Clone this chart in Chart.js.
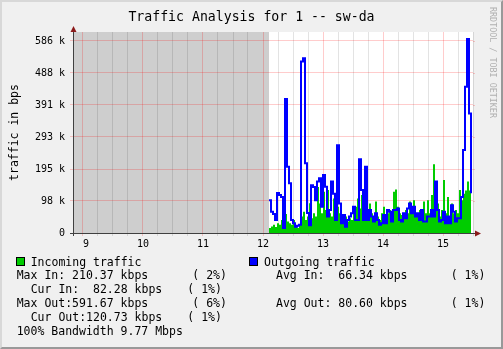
<!DOCTYPE html>
<html><head><meta charset="utf-8">
<script src="https://cdn.jsdelivr.net/npm/chart.js@4.4.0/dist/chart.umd.min.js"></script>
<style>
html,body{margin:0;padding:0;background:#f0f0f0;}
#wrap{position:relative;width:503px;height:349px;background:#f0f0f0;overflow:hidden;font-family:'DejaVu Sans Mono',monospace;color:#000;}
#frame{position:absolute;left:0;top:0;width:503px;height:349px;box-sizing:border-box;border-top:2px solid #d8d8d8;border-left:2px solid #d8d8d8;border-right:2px solid #999;border-bottom:2px solid #999;pointer-events:none;}
canvas{position:absolute;left:0;top:0;}
.t{position:absolute;white-space:pre;font-size:11.5px;line-height:14px;}
#title{position:absolute;left:0;width:503px;top:9px;text-align:center;font-size:13.2px;line-height:16px;white-space:pre;}
#rrd{position:absolute;left:488px;top:7px;font-size:8.4px;line-height:10px;color:#b0b0b0;writing-mode:vertical-rl;white-space:pre;}
.box{position:absolute;width:7px;height:7px;border:1px solid #000;}
</style>
</head><body>
<div id="wrap">
<canvas id="c" width="503" height="349"></canvas>
<div id="title">Traffic Analysis for 1 -- sw-da</div>
<div id="rrd">RRDTOOL / TOBI OETIKER</div>
<div class="box" style="left:16px;top:257px;background:#00cc00"></div>
<div class="t" style="left:30.7px;top:254.5px">Incoming traffic</div>
<div class="box" style="left:249px;top:257px;background:#0000ff"></div>
<div class="t" style="left:264px;top:254.5px">Outgoing traffic</div>
<div class="t" style="left:16.7px;top:268.3px">Max In: 210.37 kbps</div>
<div class="t" style="left:192.3px;top:268.3px">( 2%)</div>
<div class="t" style="left:276px;top:268.3px">Avg In:  66.34 kbps</div>
<div class="t" style="left:450.7px;top:268.3px">( 1%)</div>
<div class="t" style="left:30.7px;top:282.3px">Cur In:  82.28 kbps</div>
<div class="t" style="left:187.3px;top:282.3px">( 1%)</div>
<div class="t" style="left:16.7px;top:296px">Max Out:591.67 kbps</div>
<div class="t" style="left:192.3px;top:296px">( 6%)</div>
<div class="t" style="left:276px;top:296px">Avg Out: 80.60 kbps</div>
<div class="t" style="left:450.7px;top:296px">( 1%)</div>
<div class="t" style="left:30.7px;top:310.3px">Cur Out:120.73 kbps</div>
<div class="t" style="left:187.3px;top:310.3px">( 1%)</div>
<div class="t" style="left:16.7px;top:324px">100% Bandwidth 9.77 Mbps</div>
<div id="frame"></div>
</div>
<script>
// ---- data (kbps), one sample every 2 minutes starting 12:06 ----
const startHour = 12.1;
const stepMinutes = 2;
const incoming = [
  15, 20, 25, 18, 30, 25, 40, 20, 58, 35,
  30, 25, 40, 20, 15, 25, 50, 65, 40, 50,
  91, 45, 60, 50, 140, 90, 60, 126, 70, 131,
  60, 50, 105, 60, 80, 60, 45, 40, 50, 35,
  45, 40, 70, 80, 105, 75, 116, 60, 50, 70,
  90, 60, 50, 96, 50, 40, 60, 80, 50, 60,
  70, 50, 126, 133, 80, 60, 55, 50, 70, 60,
  96, 70, 100, 60, 50, 70, 60, 96, 60, 100,
  60, 116, 210, 80, 90, 50, 70, 162, 60, 110,
  50, 90, 60, 70, 60, 131, 100, 120, 130, 157,
  130, 82
];
const outgoing = [
  100, 65, 58, 40, 122, 116, 110, 15, 409, 202,
  152, 40, 30, 19, 22, 25, 523, 533, 213, 61,
  24, 146, 140, 100, 157, 167, 80, 177, 141, 50,
  70, 157, 120, 40, 268, 90, 30, 55, 19, 40,
  50, 60, 80, 40, 40, 225, 131, 40, 202, 40,
  70, 50, 35, 60, 40, 25, 30, 55, 30, 70,
  65, 35, 70, 70, 75, 40, 35, 60, 45, 75,
  90, 60, 80, 50, 60, 40, 70, 35, 35, 50,
  50, 70, 50, 157, 70, 35, 40, 65, 30, 50,
  30, 85, 65, 35, 45, 45, 110, 253, 446, 592,
  365, 121
];
const times = incoming.map((_, i) => startHour + i * stepMinutes / 60);
const xTickLabels = [' 9', '10', '11', '12', '13', '14', '15'];
const yTickValues = [0, 97.66, 195.31, 292.97, 390.63, 488.28, 585.94];
const yTickLabels = ['0', '98 k', '195 k', '293 k', '391 k', '488 k', '586 k'];
const xMin = 8 + 50 / 60, xMax = 15.5;
const yMax = 613.4;

const xGrid = [];
for (let v = 9; v <= xMax + 1e-9; v += 0.25) xGrid.push(v);

const MAJOR = 'rgba(255,0,0,0.2)';
const MINOR = 'rgba(0,0,0,0.11)';
const isMajor = v => Math.abs(v - Math.round(v)) < 1e-6;

Chart.defaults.font.family = "'DejaVu Sans Mono', monospace";

const framePlugin = {
  id: 'frame',
  beforeDraw(chart) {
    const {ctx, chartArea: a, scales: {x}} = chart;
    ctx.save();
    ctx.fillStyle = '#ffffff';
    ctx.fillRect(a.left, a.top, a.right - a.left, a.bottom - a.top);
    const gx = x.getPixelForValue(times[0]);
    ctx.fillStyle = '#cecece';
    ctx.fillRect(a.left, a.top, gx - a.left, a.bottom - a.top);
    ctx.restore();
  },
  afterDraw(chart) {
    const {ctx, chartArea: a, scales: {y}} = chart;
    ctx.save();
    ctx.strokeStyle = MAJOR; ctx.lineWidth = 1;
    ctx.beginPath();
    yTickValues.forEach(v => {
      const py = Math.round(y.getPixelForValue(v)) + 0.5;
      ctx.moveTo(a.right, py); ctx.lineTo(a.right + 2, py);
    });
    ctx.stroke();
    ctx.strokeStyle = '#404040';
    ctx.beginPath();
    const ax = Math.round(a.left) + 0.5, ay = Math.round(a.bottom) + 0.5;
    ctx.moveTo(ax, a.bottom + 3); ctx.lineTo(ax, a.top - 1);
    ctx.moveTo(a.left - 3, ay); ctx.lineTo(a.right + 2, ay);
    ctx.stroke();
    ctx.fillStyle = '#8b1a1a';
    ctx.beginPath();
    ctx.moveTo(ax - 3, a.top); ctx.lineTo(ax + 3, a.top); ctx.lineTo(ax, a.top - 6);
    ctx.closePath(); ctx.fill();
    ctx.beginPath();
    ctx.moveTo(a.right + 2, ay - 3); ctx.lineTo(a.right + 2, ay + 3); ctx.lineTo(a.right + 8, ay);
    ctx.closePath(); ctx.fill();
    ctx.restore();
  }
};

new Chart(document.getElementById('c'), {
  type: 'line',
  data: {
    datasets: [
      {
        label: 'Outgoing traffic',
        data: times.map((t, i) => ({x: t, y: outgoing[i]})),
        borderColor: '#0000ff', borderWidth: 2, pointRadius: 0,
        stepped: true, fill: false, order: 0
      },
      {
        label: 'Incoming traffic',
        data: times.map((t, i) => ({x: t, y: incoming[i]})),
        borderColor: '#00cc00', backgroundColor: '#00cc00', borderWidth: 0,
        pointRadius: 0, stepped: true, fill: 'origin', order: 1
      }
    ]
  },
  options: {
    responsive: false, animation: false, events: [],
    layout: {padding: {left: 0, top: 32, right: 30, bottom: 0}},
    plugins: {legend: {display: false}, title: {display: false}, tooltip: {enabled: false}},
    scales: {
      x: {
        type: 'linear', min: xMin, max: xMax,
        afterBuildTicks(s) { s.ticks = xGrid.map(v => ({value: v})); },
        afterFit(s) { s.height = 116; },
        grid: {color: c => (c.tick && isMajor(c.tick.value)) ? MAJOR : MINOR, tickLength: 3, lineWidth: 1},
        border: {display: false},
        ticks: {
          autoSkip: false, maxRotation: 0, minRotation: 0, padding: 2,
          font: {size: 10}, color: '#000',
          callback: v => isMajor(v) ? (xTickLabels[Math.round(v) - 9] || '') : ''
        }
      },
      y: {
        min: 0, max: yMax,
        afterBuildTicks(s) { s.ticks = yTickValues.map(v => ({value: v})); },
        afterFit(s) { s.width = 73; },
        grid: {color: MAJOR, tickLength: 3, lineWidth: 1},
        border: {display: false},
        ticks: {padding: 5, font: {size: 10}, color: '#000', callback: (v, i) => yTickLabels[i]},
        title: {display: true, text: 'traffic in bps', font: {size: 11.5}, color: '#000', padding: {top: 8, bottom: 0}}
      }
    }
  },
  plugins: [framePlugin]
});
</script>
</body></html>
